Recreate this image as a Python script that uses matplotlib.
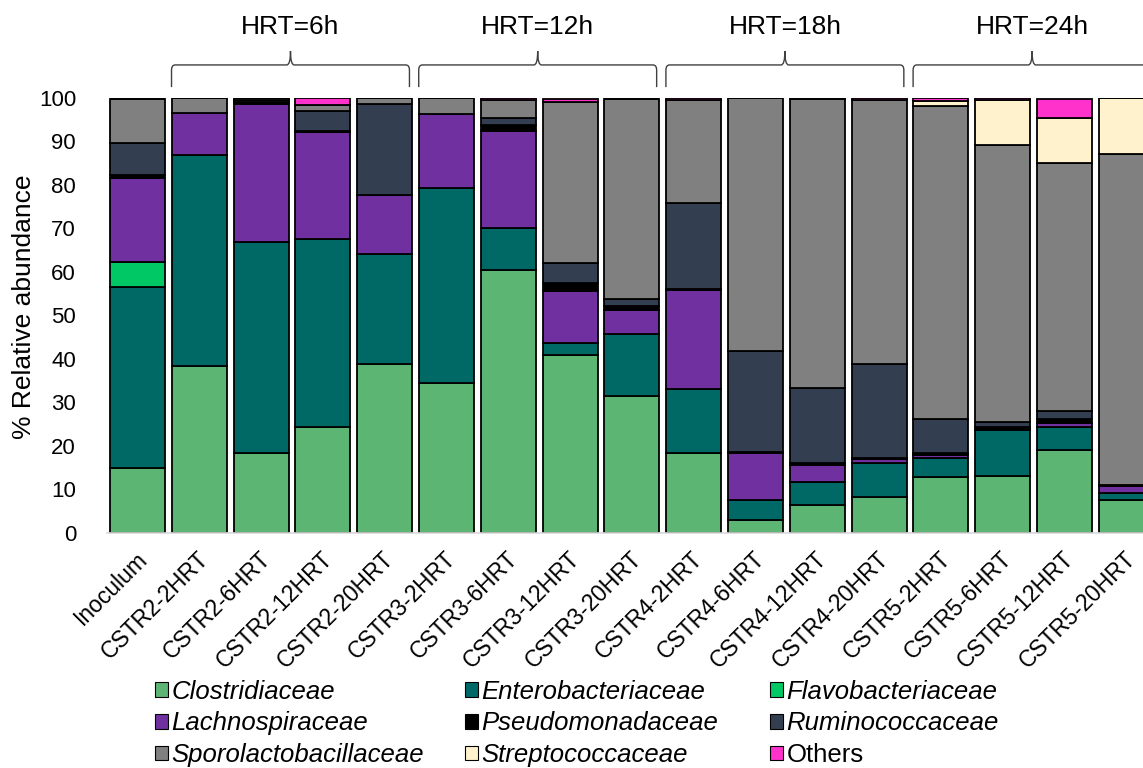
import matplotlib
matplotlib.use("Agg")
import matplotlib.pyplot as plt
from matplotlib.path import Path
from matplotlib.patches import PathPatch, Patch
from matplotlib.transforms import blended_transform_factory, ScaledTranslation
import numpy as np

plt.rcParams['font.family'] = ['Liberation Sans', 'DejaVu Sans']

# sample names on the x axis
samples = ["Inoculum", "CSTR2-2HRT", "CSTR2-6HRT", "CSTR2-12HRT", "CSTR2-20HRT",
           "CSTR3-2HRT", "CSTR3-6HRT", "CSTR3-12HRT", "CSTR3-20HRT",
           "CSTR4-2HRT", "CSTR4-6HRT", "CSTR4-12HRT", "CSTR4-20HRT",
           "CSTR5-2HRT", "CSTR5-6HRT", "CSTR5-12HRT", "CSTR5-20HRT"]

# relative abundance (%) of each family
clostridiaceae = [15.0, 38.4, 18.5, 24.3, 38.9, 34.5, 60.4, 40.9, 31.6, 18.5, 3.1, 6.5, 8.2, 12.8, 13.1, 19.1, 7.5]
enterobacteriaceae = [41.6, 48.5, 48.3, 43.4, 25.2, 44.8, 9.6, 2.8, 14.1, 14.7, 4.4, 5.2, 7.9, 4.5, 10.6, 5.2, 1.7]
flavobacteriaceae = [5.8, 0, 0, 0, 0, 0, 0, 0, 0, 0, 0, 0, 0, 0, 0, 0, 0]
lachnospiraceae = [19.3, 9.6, 31.9, 24.4, 13.6, 17.0, 22.5, 12.0, 5.5, 22.6, 10.9, 4.0, 0.8, 0.7, 0.2, 1.0, 1.7]
pseudomonadaceae = [0.5, 0, 0.4, 0.2, 0, 0, 1.4, 1.7, 1.0, 0.4, 0.3, 0.4, 0.3, 0.4, 0.5, 1.0, 0]
ruminococcaceae = [7.4, 0, 0.5, 4.6, 21.0, 0, 1.5, 4.7, 1.7, 19.6, 23.2, 17.3, 21.7, 7.7, 1.2, 1.7, 0.2]
sporolactobacillaceae = [10.2, 3.5, 0.4, 1.4, 1.3, 3.7, 4.1, 37.0, 45.9, 23.7, 58.1, 66.3, 60.6, 72.1, 63.5, 57.0, 76.0]
streptococcaceae = [0, 0, 0, 0, 0, 0, 0, 0, 0, 0, 0, 0, 0, 1.2, 10.5, 10.5, 12.9]
others = [0, 0, 0, 1.6, 0, 0, 0.4, 0.6, 0, 0.5, 0, 0.3, 0.5, 0.6, 0.5, 4.3, 0]

families = ["Clostridiaceae", "Enterobacteriaceae", "Flavobacteriaceae",
            "Lachnospiraceae", "Pseudomonadaceae", "Ruminococcaceae",
            "Sporolactobacillaceae", "Streptococcaceae", "Others"]
series = [clostridiaceae, enterobacteriaceae, flavobacteriaceae, lachnospiraceae,
          pseudomonadaceae, ruminococcaceae, sporolactobacillaceae, streptococcaceae, others]
colors = ["#5db574", "#006865", "#00c864", "#7030a0", "#000000",
          "#333f50", "#808080", "#fff2cc", "#ff33cc"]

groups = ["HRT=6h", "HRT=12h", "HRT=18h", "HRT=24h"]
group_bars = [(1, 4), (5, 8), (9, 12), (13, 16)]

fig = plt.figure(figsize=(11.43, 7.68), dpi=100)
ax = fig.add_axes([0.0933, 0.306, 0.9067, 0.5664])

x = np.arange(len(samples))
bottom = np.zeros(len(samples))
for name, vals, c in zip(families, series, colors):
    vals = np.array(vals, dtype=float)
    ax.bar(x, vals, width=0.89, bottom=bottom, color=c, edgecolor="black", linewidth=1.3)
    bottom += vals

ax.set_xlim(-0.5, 16.27)
ax.set_ylim(0, 100)
ax.set_yticks(np.arange(0, 101, 10))
ax.tick_params(axis="y", length=0, labelsize=16, pad=22)
ax.tick_params(axis="x", length=0, labelsize=16.5, pad=4)
ax.set_xticks(x)
ax.set_xticklabels(samples, rotation=45, ha="right", va="center", rotation_mode="anchor")
for lab in ax.get_xticklabels():
    lab.set_transform(lab.get_transform() + ScaledTranslation(0.06, -0.17, fig.dpi_scale_trans))
for s in ["top", "right", "left"]:
    ax.spines[s].set_visible(False)
ax.spines["bottom"].set_color("#d9d9d9")
ax.spines["bottom"].set_linewidth(1.2)
ax.set_ylabel("% Relative abundance", fontsize=19)
ax.yaxis.set_label_coords(-0.068, 0.52)

# group braces above the bars
tr = blended_transform_factory(ax.transData, ax.transAxes)
y_end, y_mid, y_tip = 1.025, 1.076, 1.108
for label, (i0, i1) in zip(groups, group_bars):
    x0, x1 = i0 - 0.45, i1 + 0.4
    xc = (x0 + x1) / 2
    r = 0.06
    verts = [(x0, y_end), (x0, y_mid - 0.012), (x0, y_mid), (x0 + r, y_mid),
             (xc - r, y_mid), (xc, y_mid), (xc, y_tip),
             (xc, y_mid), (xc + r, y_mid),
             (x1 - r, y_mid), (x1, y_mid), (x1, y_mid - 0.012), (x1, y_end)]
    codes = [Path.MOVETO, Path.LINETO, Path.CURVE3, Path.CURVE3,
             Path.LINETO, Path.CURVE3, Path.CURVE3,
             Path.CURVE3, Path.CURVE3,
             Path.LINETO, Path.CURVE3, Path.CURVE3, Path.LINETO]
    ax.add_patch(PathPatch(Path(verts, codes), transform=tr, fill=False,
                           edgecolor="#404040", linewidth=1.0, clip_on=False))
    ax.text(xc, 1.163, label, transform=tr, ha="center", va="center", fontsize=19)

# legend in three columns, filled row by row
col_x = [155 / 1143, 465 / 1143, 770 / 1143]
for c in range(3):
    idx = [c, c + 3, c + 6]
    handles = [Patch(facecolor=colors[i], edgecolor="black", linewidth=0.8) for i in idx]
    leg = fig.legend(handles, [families[i] for i in idx], loc="upper left",
                     bbox_to_anchor=(col_x[c], 0.115), frameon=False, fontsize=18.5,
                     handlelength=0.5, handleheight=0.5, handletextpad=0.15,
                     labelspacing=0.3, borderpad=0, borderaxespad=0)
    for i, t in zip(idx, leg.get_texts()):
        if families[i] != "Others":
            t.set_style("italic")

fig.savefig("out.png", dpi=100)
